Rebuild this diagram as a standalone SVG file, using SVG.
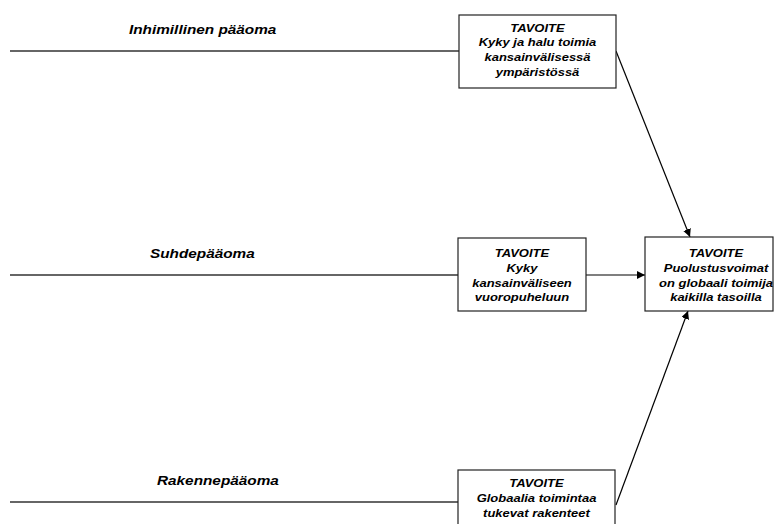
<svg xmlns="http://www.w3.org/2000/svg" width="775" height="524" viewBox="0 0 775 524">
  <style>
    .box { fill: #ffffff; stroke: #222222; stroke-width: 1.2; }
    .lbl { font-family: "Liberation Sans", Arial, sans-serif; font-weight: bold; font-style: italic; font-size: 13px; fill: #000000; }
    .txt { font-family: "Liberation Sans", Arial, sans-serif; font-weight: bold; font-style: italic; font-size: 10px; fill: #000000; text-anchor: middle; }
    .hline { stroke: #333333; stroke-width: 1.3; fill: none; }
    .arr { stroke: #000000; stroke-width: 1.2; fill: none; marker-end: url(#head); }
  </style>
  <defs>
    <marker id="head" viewBox="0 0 10 10" refX="10" refY="5" markerWidth="8" markerHeight="8" markerUnits="userSpaceOnUse" orient="auto">
      <path d="M0,0 L10,5 L0,10 z" fill="#000000"/>
    </marker>
  </defs>

  <rect width="775" height="524" fill="#ffffff"/>

  <g id="connectors">
    <line class="hline" x1="10" y1="51" x2="459" y2="51"/>
    <line class="hline" x1="10" y1="275" x2="458" y2="275"/>
    <line class="hline" x1="10" y1="502" x2="458" y2="502"/>
    <line class="arr" x1="586" y1="275" x2="645" y2="275"/>
    <line class="arr" x1="616" y1="51" x2="690" y2="237"/>
    <line class="arr" x1="616" y1="505" x2="688" y2="311"/>
  </g>

  <g id="label-inhimillinen">
    <text class="lbl" transform="translate(129,34) scale(1.18,1)">Inhimillinen pääoma</text>
  </g>
  <g id="label-suhde">
    <text class="lbl" transform="translate(150,258) scale(1.18,1)">Suhdepääoma</text>
  </g>
  <g id="label-rakenne">
    <text class="lbl" transform="translate(157,485) scale(1.18,1)">Rakennepääoma</text>
  </g>

  <g id="node-kyky-halu">
    <rect class="box" x="459" y="15" width="157" height="73"/>
    <text class="txt" transform="translate(537.5,32) scale(1.3,1)">TAVOITE</text>
    <text class="txt" transform="translate(537.5,46) scale(1.3,1)">Kyky ja halu toimia</text>
    <text class="txt" transform="translate(537.5,61) scale(1.3,1)">kansainvälisessä</text>
    <text class="txt" transform="translate(537.5,75.5) scale(1.3,1)">ympäristössä</text>
  </g>

  <g id="node-vuoropuhelu">
    <rect class="box" x="458" y="238" width="128" height="73"/>
    <text class="txt" transform="translate(522,257) scale(1.3,1)">TAVOITE</text>
    <text class="txt" transform="translate(522,272) scale(1.3,1)">Kyky</text>
    <text class="txt" transform="translate(522,286.5) scale(1.3,1)">kansainväliseen</text>
    <text class="txt" transform="translate(522,301) scale(1.3,1)">vuoropuheluun</text>
  </g>

  <g id="node-puolustusvoimat">
    <rect class="box" x="645" y="237" width="128" height="74"/>
    <text class="txt" transform="translate(716,257) scale(1.3,1)">TAVOITE</text>
    <text class="txt" transform="translate(716,272) scale(1.3,1)">Puolustusvoimat</text>
    <text class="txt" transform="translate(716,286.5) scale(1.3,1)">on globaali toimija</text>
    <text class="txt" transform="translate(716,301) scale(1.3,1)">kaikilla tasoilla</text>
  </g>

  <g id="node-rakenteet">
    <rect class="box" x="458" y="470" width="157" height="70"/>
    <text class="txt" transform="translate(536.5,487) scale(1.3,1)">TAVOITE</text>
    <text class="txt" transform="translate(536.5,502) scale(1.3,1)">Globaalia toimintaa</text>
    <text class="txt" transform="translate(536.5,517) scale(1.3,1)">tukevat rakenteet</text>
  </g>
</svg>
